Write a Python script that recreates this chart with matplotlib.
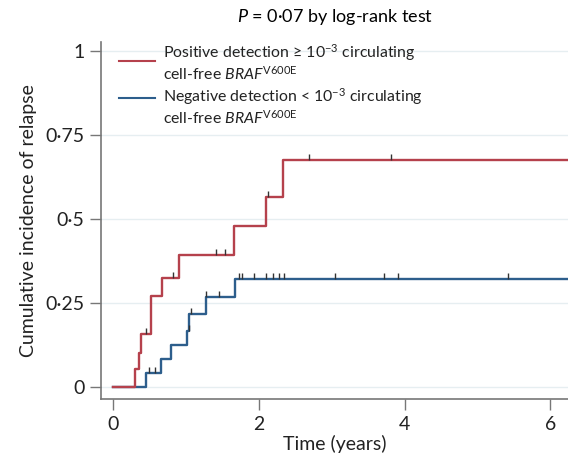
import numpy as np
import matplotlib.pyplot as plt
from matplotlib.lines import Line2D

plt.rcParams['font.family'] = ['Lato', 'DejaVu Sans']
plt.rcParams['mathtext.fontset'] = 'custom'
plt.rcParams['mathtext.rm'] = 'Lato'
plt.rcParams['mathtext.it'] = 'Lato:italic'
plt.rcParams['mathtext.bf'] = 'Lato:bold'

# step curves (time in years, cumulative incidence)
pos_t = [0, 0.30, 0.36, 0.39, 0.53, 0.68, 0.91, 1.66, 2.10, 2.33, 6.3]
pos_y = [0, 0.054, 0.103, 0.159, 0.27, 0.324, 0.393, 0.48, 0.567, 0.676, 0.676]
neg_t = [0, 0.46, 0.66, 0.80, 1.02, 1.05, 1.28, 1.68, 6.3]
neg_y = [0, 0.042, 0.085, 0.127, 0.168, 0.218, 0.268, 0.321, 0.321]

# censored observations
pos_cens_t = [0.45, 0.82, 1.42, 1.54, 2.13, 2.69, 3.81]
neg_cens_t = [0.49, 0.58, 1.04, 1.07, 1.28, 1.46, 1.73, 1.77, 1.93, 2.10,
              2.20, 2.28, 2.35, 3.05, 3.72, 3.91, 5.42]

pos_label = ['Positive detection ≥ 10$^{-3}$ circulating',
             'cell-free $\\it{BRAF}^{\\rm{V600E}}$']
neg_label = ['Negative detection < 10$^{-3}$ circulating',
             'cell-free $\\it{BRAF}^{\\rm{V600E}}$']

red = '#b5414c'
blue = '#2d5e8c'

def level_at(ts, ys, t):
    i = np.searchsorted(ts, t, side='right') - 1
    return ys[i]

W, H = 568, 457
fig = plt.figure(figsize=(W / 100, H / 100), dpi=100)
ax = fig.add_axes([0.178, 0.127, 0.822, 0.781])

ax.step(pos_t, pos_y, where='post', color=red, lw=1.7, zorder=3)
ax.step(neg_t, neg_y, where='post', color=blue, lw=1.7, zorder=2)

h = 0.018
for t in pos_cens_t:
    y = level_at(pos_t, pos_y, t)
    ax.vlines(t, y, y + h, color='#333333', lw=1, zorder=4)
for t in neg_cens_t:
    y = level_at(neg_t, neg_y, t)
    ax.vlines(t, y, y + h, color='#333333', lw=1, zorder=4)

ax.set_xlim(-0.16, 6.24)
ax.set_ylim(-0.035, 1.027)
ax.set_xticks([0, 2, 4, 6])
ax.set_yticks([0, 0.25, 0.5, 0.75, 1])
ax.set_yticklabels(['0', '0·25', '0·5', '0·75', '1'])
ax.yaxis.grid(True, color='#e6eef1', lw=1)
ax.set_axisbelow(True)
for s in ['top', 'right']:
    ax.spines[s].set_visible(False)
for s in ['left', 'bottom']:
    ax.spines[s].set_color('#777777')
    ax.spines[s].set_linewidth(1.2)
ax.tick_params(colors='#777777', labelcolor='#222222', labelsize=14, length=8, width=1, pad=4)
ax.set_xlabel('Time (years)', fontsize=14, color='#222222', labelpad=2)
ax.set_ylabel('Cumulative incidence of relapse', fontsize=14, color='#222222', labelpad=6)

# legend drawn by hand (pixel positions)
def fx(px): return px / W
def fy(py): return 1 - py / H

for col, ly, labs, ty in [(red, 61, pos_label, 53), (blue, 98, neg_label, 97)]:
    fig.add_artist(Line2D([fx(119), fx(155)], [fy(ly), fy(ly)], color=col, lw=1.5))
    fig.text(fx(163), fy(ty), labs[0], fontsize=11.4, va='center', ha='left', color='#222222')
    fig.text(fx(163), fy(ty + 20.5), labs[1], fontsize=11.4, va='center', ha='left', color='#222222')

fig.text(0.59, 0.963, '$P$ = 0·07 by log-rank test', ha='center', va='center', fontsize=13)

fig.savefig('out.png', dpi=100)
